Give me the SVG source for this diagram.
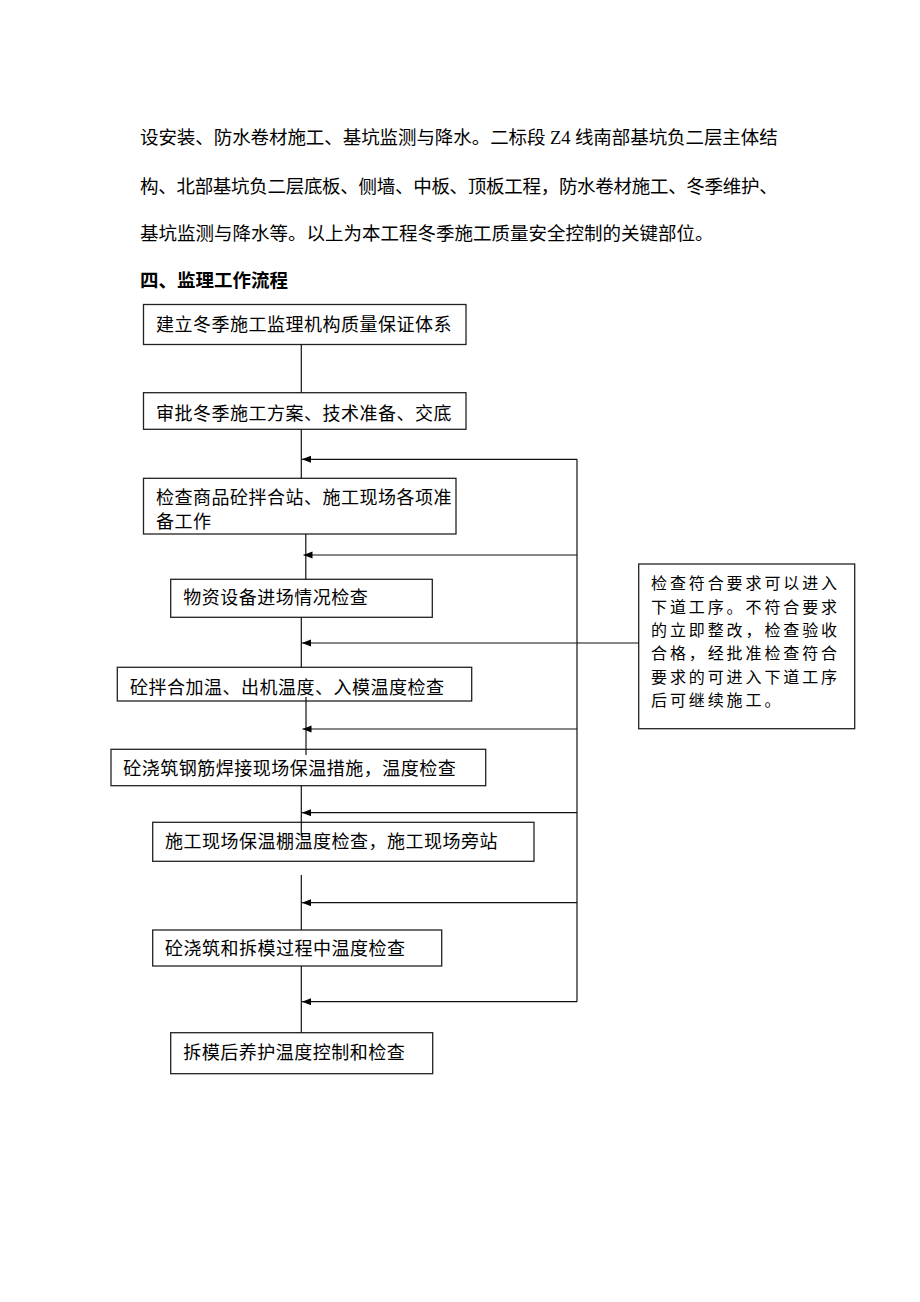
<svg xmlns="http://www.w3.org/2000/svg" width="920" height="1302" viewBox="0 0 920 1302">
<style>
  .p { font-family: "Liberation Serif", "Noto Sans CJK SC", serif; font-size: 18.5px; fill: #000; letter-spacing: 0.27px; }
  .h { font-family: "Noto Sans CJK SC", sans-serif; font-size: 18.5px; font-weight: bold; fill: #000; }
  .t { font-family: "Noto Sans CJK SC", sans-serif; font-size: 18px; fill: #000; letter-spacing: 0.5px; }
  .r { font-family: "Noto Sans CJK SC", sans-serif; font-size: 16px; fill: #000; letter-spacing: 2.9px; }
  .box { fill: #fff; stroke: #222; stroke-width: 1.3; }
  .ln { fill: none; stroke: #111; stroke-width: 1.2; }
</style>
<defs>
  <marker id="arr" markerWidth="10" markerHeight="8" refX="9" refY="3.5" orient="auto" markerUnits="userSpaceOnUse">
    <path d="M0,0 L9,3.5 L0,7 z" fill="#000"/>
  </marker>
</defs>
<rect width="920" height="1302" fill="#fff"/>

<g id="paragraph">
  <text class="p" x="140" y="144" textLength="638" lengthAdjust="spacing">设安装、防水卷材施工、基坑监测与降水。二标段 Z4 线南部基坑负二层主体结</text>
  <text class="p" x="140" y="193" textLength="638" lengthAdjust="spacing">构、北部基坑负二层底板、侧墙、中板、顶板工程，防水卷材施工、冬季维护、</text>
  <text class="p" x="140" y="240" style="letter-spacing:0px">基坑监测与降水等。以上为本工程冬季施工质量安全控制的关键部位。</text>
  <text class="h" x="140" y="287">四、监理工作流程</text>
</g>

<g id="n1"><rect class="box" x="143.5" y="304.5" width="322.5" height="40"/><text class="t" x="156" y="331">建立冬季施工监理机构质量保证体系</text></g>
<g id="n2"><rect class="box" x="143.5" y="392.7" width="322.5" height="36.6"/><text class="t" x="156" y="419.7">审批冬季施工方案、技术准备、交底</text></g>
<g id="n3"><rect class="box" x="143.5" y="478.3" width="312.5" height="55.7"/><text class="t" x="156" y="504.3">检查商品砼拌合站、施工现场各项准<tspan x="156" dy="23.7">备工作</tspan></text></g>
<g id="n4"><rect class="box" x="170.7" y="579.3" width="261.6" height="38"/><text class="t" x="183.3" y="604.3">物资设备进场情况检查</text></g>
<g id="n5"><rect class="box" x="117.3" y="667.3" width="354.4" height="33.7"/><text class="t" x="130" y="693.7">砼拌合加温、出机温度、入模温度检查</text></g>
<g id="n6"><rect class="box" x="111" y="749.3" width="374.7" height="36.4"/><text class="t" x="123.3" y="775.3">砼浇筑钢筋焊接现场保温措施，温度检查</text></g>
<g id="n7"><rect class="box" x="152.7" y="822.3" width="381.3" height="39"/><text class="t" x="165" y="848">施工现场保温棚温度检查，施工现场旁站</text></g>
<g id="n8"><rect class="box" x="152.7" y="930" width="289" height="36"/><text class="t" x="165" y="955.3">砼浇筑和拆模过程中温度检查</text></g>
<g id="n9"><rect class="box" x="170.7" y="1032.7" width="262" height="41"/><text class="t" x="183.3" y="1058.7">拆模后养护温度控制和检查</text></g>
<g id="note"><rect class="box" x="638.7" y="564" width="216" height="164.7"/>
  <text class="r" x="651" y="589.4">检查符合要求可以进入<tspan x="651" dy="23.3">下道工序。不符合要求</tspan><tspan x="651" dy="23.3">的立即整改，检查验收</tspan><tspan x="651" dy="23.3">合格，经批准检查符合</tspan><tspan x="651" dy="23.3">要求的可进入下道工序</tspan><tspan x="651" dy="23.3">后可继续施工。</tspan></text>
</g>

<g id="connectors">
  <line class="ln" x1="301.3" y1="344.5" x2="301.3" y2="392.7"/>
  <line class="ln" x1="301.3" y1="429.3" x2="301.3" y2="478.3"/>
  <line class="ln" x1="305.8" y1="534" x2="305.8" y2="579.3"/>
  <line class="ln" x1="301.3" y1="617.3" x2="301.3" y2="667.3"/>
  <line class="ln" x1="306" y1="697" x2="306" y2="755"/>
  <line class="ln" x1="301.3" y1="785.7" x2="301.3" y2="836.5"/>
  <line class="ln" x1="301.3" y1="875" x2="301.3" y2="930"/>
  <line class="ln" x1="301.3" y1="966" x2="301.3" y2="1032.7"/>
  <polyline class="ln" points="577,1001.7 577,459.3"/>
  <line class="ln" x1="577" y1="459.3" x2="302" y2="459.3" marker-end="url(#arr)"/>
  <line class="ln" x1="577" y1="555" x2="303.5" y2="555" marker-end="url(#arr)"/>
  <line class="ln" x1="638.7" y1="643" x2="302" y2="643" marker-end="url(#arr)"/>
  <line class="ln" x1="577" y1="729" x2="302.5" y2="729" marker-end="url(#arr)"/>
  <line class="ln" x1="577" y1="812.7" x2="302" y2="812.7" marker-end="url(#arr)"/>
  <line class="ln" x1="577" y1="902.7" x2="302" y2="902.7" marker-end="url(#arr)"/>
  <line class="ln" x1="577" y1="1001.7" x2="302" y2="1001.7" marker-end="url(#arr)"/>
</g>
</svg>
